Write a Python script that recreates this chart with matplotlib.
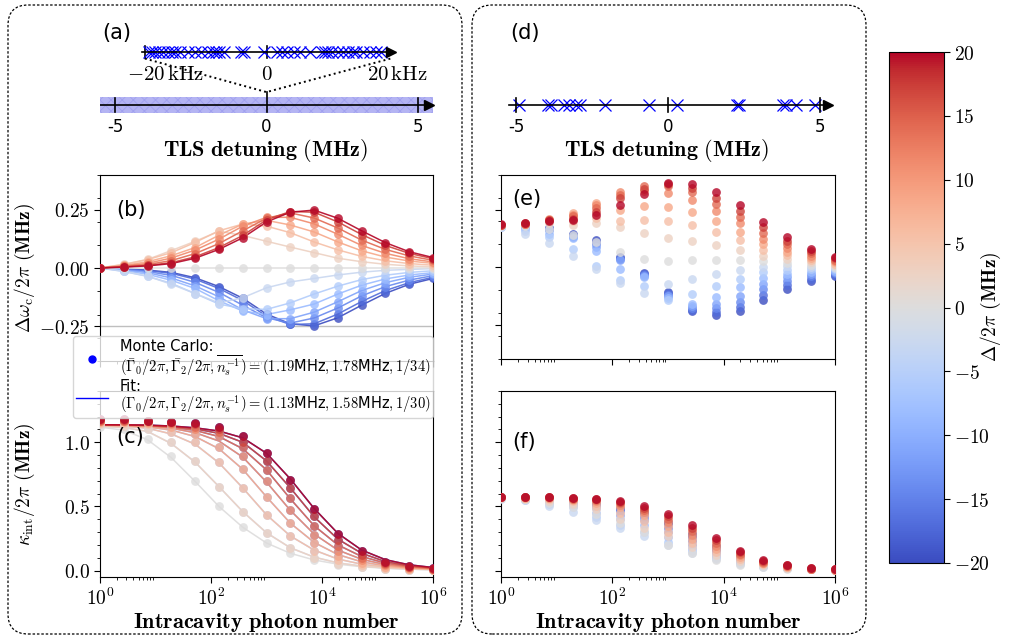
import numpy as np
import matplotlib.pyplot as plt
from matplotlib.patches import FancyBboxPatch, Rectangle
from matplotlib.lines import Line2D
from matplotlib.ticker import FixedLocator, MultipleLocator, FuncFormatter, NullFormatter
from matplotlib.cm import ScalarMappable
from matplotlib.colors import Normalize

plt.rcParams['mathtext.fontset'] = 'cm'
plt.rcParams['font.family'] = ['DejaVu Sans']
plt.rcParams['hatch.linewidth'] = 0.6

# ---- data ----
PHOTONS = [1, 2.68, 7.2, 19.3, 51.8, 139, 373, 1000, 2683, 7197,
           19307, 51795, 138950, 372759, 1e6]

DETUNINGS = [-20, -17.14, -14.29, -11.43, -8.57, -5.71, -2.86, 0,
             2.86, 5.71, 8.57, 11.43, 14.29, 17.14, 20]

# (b) cavity frequency shift, one row per detuning (MHz)
SHIFT_B = [
    [0, -.004, -.009, -.019, -.042, -.08, -.13, -.198, -.24, -.249, -.214, -.16, -.109, -.07, -.045],
    [0, -.005, -.011, -.023, -.048, -.088, -.14, -.207, -.243, -.24, -.198, -.144, -.097, -.063, -.04],
    [0, -.007, -.015, -.032, -.062, -.105, -.16, -.214, -.237, -.215, -.172, -.12, -.08, -.052, -.033],
    [0, -.009, -.02, -.043, -.077, -.124, -.18, -.218, -.218, -.19, -.145, -.097, -.063, -.04, -.026],
    [0, -.011, -.027, -.053, -.088, -.141, -.185, -.2, -.18, -.155, -.112, -.074, -.047, -.03, -.02],
    [0, -.015, -.036, -.066, -.11, -.155, -.175, -.178, -.15, -.112, -.078, -.05, -.031, -.019, -.012],
    [0, -.014, -.035, -.07, -.11, -.15, -.128, -.085, -.06, -.045, -.03, -.018, -.01, -.006, -.003],
    [0, 0, 0, 0, 0, 0, 0, 0, 0, 0, 0, 0, 0, 0, 0],
    [0, .016, .037, .075, .115, .158, .14, .115, .09, .066, .042, .027, .016, .009, .005],
    [0, .015, .036, .066, .11, .16, .189, .18, .152, .112, .078, .05, .031, .019, .012],
    [0, .011, .027, .053, .088, .141, .189, .205, .185, .155, .112, .074, .047, .03, .02],
    [0, .009, .02, .043, .077, .124, .18, .218, .218, .19, .145, .097, .063, .04, .026],
    [0, .007, .015, .032, .062, .105, .16, .214, .237, .215, .172, .12, .08, .052, .033],
    [0, .005, .011, .023, .048, .088, .14, .207, .243, .24, .198, .144, .097, .063, .04],
    [0, .004, .009, .019, .042, .08, .13, .198, .24, .249, .214, .16, .109, .07, .045],
]

# (c) internal loss, one row per |detuning| = 0, 2.86, ..., 20
ABS_DETUNINGS = [0, 2.86, 5.71, 8.57, 11.43, 14.29, 17.14, 20]
KAPPA_MC = [
    [1.12, 1.105, 1.026, .89, .70, .50, .34, .215, .135, .08, .045, .025, .012, .006, .003],
    [1.14, 1.13, 1.10, 1.0, .856, .654, .458, .293, .175, .10, .055, .03, .015, .008, .004],
    [1.15, 1.15, 1.14, 1.08, 1.0, .843, .646, .432, .272, .15, .08, .04, .02, .01, .005],
    [1.16, 1.16, 1.15, 1.12, 1.065, .96, .79, .573, .372, .215, .115, .06, .03, .015, .008],
    [1.165, 1.165, 1.16, 1.14, 1.10, 1.05, .89, .70, .476, .28, .15, .08, .04, .02, .01],
    [1.17, 1.17, 1.165, 1.15, 1.12, 1.08, .96, .785, .563, .35, .19, .10, .05, .025, .012],
    [1.175, 1.175, 1.168, 1.155, 1.14, 1.10, 1.005, .851, .645, .424, .24, .125, .06, .03, .015],
    [1.178, 1.178, 1.17, 1.16, 1.15, 1.118, 1.047, .914, .71, .48, .285, .15, .07, .037, .018],
]
KAPPA_FIT = [
    [1.118, 1.095, 1.02, .88, .695, .50, .338, .215, .135, .083, .05, .03, .018, .011, .006],
    [1.125, 1.115, 1.085, .99, .845, .655, .46, .295, .178, .105, .06, .035, .02, .012, .007],
    [1.13, 1.125, 1.11, 1.065, .985, .84, .645, .435, .27, .16, .09, .05, .028, .016, .009],
    [1.132, 1.13, 1.12, 1.095, 1.045, .95, .79, .575, .37, .22, .125, .068, .037, .02, .011],
    [1.134, 1.132, 1.127, 1.11, 1.075, 1.01, .885, .69, .47, .285, .16, .088, .047, .025, .014],
    [1.135, 1.134, 1.13, 1.118, 1.093, 1.045, .95, .785, .56, .35, .2, .11, .058, .031, .017],
    [1.136, 1.135, 1.132, 1.123, 1.105, 1.07, 1.0, .855, .645, .42, .245, .135, .07, .037, .02],
    [1.137, 1.136, 1.134, 1.127, 1.113, 1.088, 1.035, .915, .715, .485, .29, .16, .085, .045, .024],
]

# (e) frequency shift, sparse TLS bath
SHIFT_E = [
    [.18, .185, .17, .145, .116, .044, -.025, -.11, -.19, -.21, -.19, -.145, -.094, -.061, -.04],
    [.18, .183, .17, .14, .11, .04, -.03, -.115, -.185, -.195, -.172, -.121, -.077, -.05, -.034],
    [.18, .18, .165, .135, .10, .035, -.035, -.12, -.18, -.18, -.153, -.096, -.061, -.04, -.028],
    [.178, .175, .16, .13, .085, .03, -.04, -.128, -.17, -.163, -.124, -.072, -.045, -.03, -.022],
    [.175, .167, .145, .124, .07, -.007, -.044, -.135, -.16, -.13, -.087, -.048, -.029, -.02, -.016],
    [.172, .155, .13, .08, .003, -.058, -.083, -.145, -.116, -.084, -.05, -.023, -.013, -.01, -.01],
    [.172, .145, .105, .048, -.01, -.068, -.113, -.076, -.054, -.029, -.012, .001, .003, 0, -.004],
    [.18, .178, .167, .138, .11, .065, .036, .026, .029, .032, .032, .026, .019, .01, .002],
    [.182, .185, .19, .182, .19, .172, .15, .128, .113, .097, .076, .05, .035, .02, .008],
    [.182, .187, .2, .2, .215, .2, .206, .2, .182, .153, .116, .074, .051, .03, .014],
    [.183, .188, .205, .235, .28, .247, .265, .262, .24, .2, .153, .099, .067, .04, .02],
    [.183, .189, .208, .228, .27, .327, .33, .32, .29, .243, .19, .123, .083, .05, .026],
    [.184, .189, .205, .22, .255, .313, .352, .352, .327, .276, .218, .147, .099, .06, .032],
    [.184, .19, .203, .21, .24, .30, .34, .36, .345, .30, .245, .172, .115, .07, .038],
    [.185, .19, .2, .203, .228, .27, .317, .366, .36, .327, .27, .196, .131, .08, .044],
]

# (f) internal loss, sparse TLS bath
KAPPA_F = [
    [.572, .57, .568, .555, .53, .49, .455, .38, .285, .19, .11, .058, .033, .016, .008],
    [.572, .568, .565, .55, .52, .48, .44, .36, .26, .17, .1, .052, .03, .015, .008],
    [.571, .565, .56, .545, .51, .465, .42, .33, .23, .15, .09, .046, .027, .014, .007],
    [.57, .56, .55, .53, .49, .435, .396, .3, .2, .13, .08, .04, .024, .013, .007],
    [.568, .555, .535, .51, .45, .40, .357, .26, .175, .115, .07, .036, .022, .012, .006],
    [.565, .55, .52, .495, .42, .357, .297, .22, .15, .1, .06, .032, .02, .011, .006],
    [.56, .547, .505, .453, .396, .33, .27, .2, .14, .09, .05, .028, .017, .01, .005],
    [.565, .555, .53, .495, .44, .37, .30, .2, .135, .083, .044, .026, .016, .01, .005],
    [.568, .56, .545, .52, .48, .40, .33, .266, .18, .12, .075, .04, .022, .012, .006],
    [.57, .565, .555, .54, .50, .45, .39, .30, .215, .145, .09, .048, .026, .013, .007],
    [.571, .568, .563, .55, .525, .495, .43, .344, .25, .17, .105, .056, .03, .014, .008],
    [.572, .57, .568, .556, .54, .51, .455, .38, .28, .195, .12, .063, .034, .015, .008],
    [.573, .572, .57, .56, .55, .525, .475, .405, .305, .215, .132, .07, .037, .016, .009],
    [.573, .573, .572, .563, .555, .535, .49, .425, .33, .235, .145, .077, .04, .017, .009],
    [.573, .573, .573, .565, .56, .544, .505, .443, .354, .253, .156, .083, .044, .018, .01],
]

# TLS positions: (a) dense bath zoom in kHz, (d) sparse bath in MHz
TLS_DENSE_KHZ = [-19.0, -18.5, -17.9, -17.4, -16.6, -15.8, -15.3, -14.7, -14.0, -12.6,
                 -11.6, -10.5, -9.4, -8.6, -8.1, -7.6, -6.8, -4.1, -3.6, -0.4,
                 1.7, 2.5, 3.3, 4.4, 5.4, 7.0, 8.9, 9.4, 9.9, 10.5,
                 11.5, 12.3, 13.1, 13.9, 14.4, 15.5, 16.6, 17.6, 18.4]
TLS_SPARSE_MHZ = [-4.92, -3.96, -3.85, -3.41, -3.26, -3.02, -2.91, -2.08, -0.64,
                  0.28, 2.26, 2.35, 3.78, 3.89, 4.23, 4.83]

LINE_TICKS = [-5, 0, 5]
LINE_TICK_LABELS = ['-5', '0', '5']

W, H = 1010, 639
CMAP = plt.get_cmap('coolwarm')
NORM = Normalize(-20, 20)
DOT_ALPHA = 0.8


def px_rect(x0, y0, x1, y1):
    return [x0 / W, 1 - y1 / H, (x1 - x0) / W, (y1 - y0) / H]


def cm_fmt(fmt):
    return FuncFormatter(lambda v, p: "$" + fmt.format(v) + "$")


def setup_log_x(ax, labels=True):
    ax.set_xscale('log')
    ax.set_xlim(1, 1e6)
    ax.xaxis.set_major_locator(FixedLocator([1, 1e2, 1e4, 1e6]))
    ax.xaxis.set_minor_locator(FixedLocator([s * 10.0 ** d for d in (0, 2, 4) for s in range(2, 10)]))
    ax.xaxis.set_minor_formatter(NullFormatter())
    ax.xaxis.set_major_formatter(FuncFormatter(lambda v, p: r"$10^{%d}$" % round(np.log10(v))))
    ax.tick_params(axis='both', which='major', length=4, width=0.8, labelsize=14)
    ax.tick_params(axis='both', which='minor', length=2, width=0.6)
    if not labels:
        ax.tick_params(axis='x', labelbottom=False)


def number_line(ax, tls, zoom=False):
    ax.set_xlim(-5.5, 5.5)
    ax.set_ylim(0, 1)
    ax.axis('off')
    y0 = 0.273
    if zoom:
        ax.add_patch(Rectangle((-5.5, 0.2), 11.0, 0.145, facecolor='#b4b4f3',
                               edgecolor='#a0a0ef', hatch='xxx', lw=0, zorder=1))
        ax.plot([-5.5, 5.3], [y0, y0], color='k', lw=1.2, zorder=3)
        ax.plot([5.38], [y0], marker='>', color='k', ms=7, clip_on=False, zorder=3)
    else:
        ax.plot([-5.25, 5.2], [y0, y0], color='k', lw=1.2, zorder=3)
        ax.plot([5.28], [y0], marker='>', color='k', ms=7, clip_on=False, zorder=3)
        ax.plot(tls, [y0] * len(tls), 'x', color='blue', ms=9, mew=0.9, zorder=2)
    for t, lab in zip(LINE_TICKS, LINE_TICK_LABELS):
        top = 0.39 if (zoom and t == 0) else 0.34
        ax.plot([t, t], [0.21, top], color='k', lw=1.2, zorder=3)
        ax.text(t, 0.07, lab, ha='center', va='center', fontsize=12)


fig = plt.figure(figsize=(W / 100, H / 100), dpi=100)

# dashed rounded frames
for x0, x1 in [(8, 462), (472, 866)]:
    box = FancyBboxPatch((x0 / W, 1 - 634 / H), (x1 - x0) / W, 629 / H,
                         boxstyle="round,pad=0,rounding_size=0.02", mutation_aspect=W / H,
                         transform=fig.transFigure, fill=False, ec='k', lw=0.9,
                         ls=(0, (2, 1.5)))
    fig.add_artist(box)

XLABEL = r"$\mathbf{Intracavity\ photon\ number}$"
TLS_LABEL = r"$\mathbf{TLS\ detuning\ (MHz)}$"

# ---- (a) ----
ax_a = fig.add_axes(px_rect(100, 25, 433, 135))
number_line(ax_a, None, zoom=True)
k2x = 4.1 / 20.0
yu = 0.755
ax_a.plot([-20 * k2x, 19.4 * k2x], [yu, yu], color='k', lw=1.2, zorder=3)
ax_a.plot([20 * k2x], [yu], marker='>', color='k', ms=7, zorder=3)
ax_a.plot([-19.6 * k2x] * 2, [yu - 0.055, yu + 0.055], color='k', lw=1.2)
ax_a.plot([0, 0], [yu - 0.055, yu + 0.055], color='k', lw=1.2)
ax_a.plot([k * k2x for k in TLS_DENSE_KHZ], [yu] * len(TLS_DENSE_KHZ), 'x',
          color='blue', ms=9, mew=0.9, zorder=2)
ax_a.plot([-19.6 * k2x, 0, 20 * k2x], [yu - 0.06, 0.39, yu - 0.06], ls=':', color='k', lw=1.4)
ax_a.text(-3.35, 0.555, r"$-20\,\mathrm{kHz}$", ha='center', va='center', fontsize=15)
ax_a.text(0, 0.555, r"$0$", ha='center', va='center', fontsize=15)
ax_a.text(4.34, 0.555, r"$20\,\mathrm{kHz}$", ha='center', va='center', fontsize=15)
ax_a.text(-4.95, 0.93, "(a)", ha='center', va='center', fontsize=15)
fig.text(266 / W, 1 - 150 / H, TLS_LABEL, ha='center', va='center', fontsize=16)

# ---- (d) ----
ax_d = fig.add_axes(px_rect(501, 25, 835, 135))
number_line(ax_d, TLS_SPARSE_MHZ)
ax_d.text(-4.7, 0.93, "(d)", ha='center', va='center', fontsize=15)
fig.text(667 / W, 1 - 150 / H, TLS_LABEL, ha='center', va='center', fontsize=16)

# ---- (b) ----
ax_b = fig.add_axes(px_rect(100, 175, 433, 361))
ax_b.axhline(-0.25, color='0.75', lw=1, zorder=1)
for d, row in zip(DETUNINGS, SHIFT_B):
    c = CMAP(NORM(d))
    ax_b.plot(PHOTONS, row, color=c, lw=1.1, alpha=0.9, zorder=2)
    ax_b.scatter(PHOTONS, row, color=c, s=40, lw=0, alpha=DOT_ALPHA, zorder=3)
setup_log_x(ax_b, labels=False)
ax_b.set_ylim(-0.4, 0.4)
ax_b.yaxis.set_major_locator(MultipleLocator(0.25))
ax_b.yaxis.set_minor_locator(MultipleLocator(0.1))
ax_b.yaxis.set_major_formatter(cm_fmt("{:.2f}"))
ax_b.text(0.05, 0.81, "(b)", transform=ax_b.transAxes, fontsize=15, va='center')
ax_b.set_ylabel(r"$\Delta\omega_{\rm c}/2\pi$ $\mathbf{(MHz)}$", fontsize=14)
ax_b.yaxis.set_label_coords(-0.19, 0.5)

# ---- (c) ----
ax_c = fig.add_axes(px_rect(100, 391, 433, 577))
for d in DETUNINGS:
    i = ABS_DETUNINGS.index(abs(d))
    c = CMAP(NORM(d))
    ax_c.plot(PHOTONS, KAPPA_FIT[i], color=c, lw=1.1, alpha=0.9, zorder=2)
    ax_c.scatter(PHOTONS, KAPPA_MC[i], color=c, s=40, lw=0, alpha=DOT_ALPHA, zorder=3)
setup_log_x(ax_c)
ax_c.set_ylim(-0.05, 1.4)
ax_c.yaxis.set_major_locator(MultipleLocator(0.5))
ax_c.yaxis.set_minor_locator(MultipleLocator(0.1))
ax_c.yaxis.set_major_formatter(cm_fmt("{:.1f}"))
ax_c.text(0.05, 0.75, "(c)", transform=ax_c.transAxes, fontsize=15, va='center')
ax_c.set_ylabel(r"$\kappa_{\rm int}/2\pi$ $\mathbf{(MHz)}$", fontsize=14)
ax_c.yaxis.set_label_coords(-0.19, 0.5)
ax_c.set_xlabel(XLABEL, fontsize=16, labelpad=2)

# ---- (e) ----
ax_e = fig.add_axes(px_rect(501, 175, 835, 359))
for d, row in zip(DETUNINGS, SHIFT_E):
    ax_e.scatter(PHOTONS, row, color=CMAP(NORM(d)), s=40, lw=0, alpha=DOT_ALPHA, zorder=3)
setup_log_x(ax_e, labels=False)
ax_e.set_ylim(-0.4, 0.4)
ax_e.yaxis.set_major_locator(MultipleLocator(0.25))
ax_e.yaxis.set_minor_locator(MultipleLocator(0.1))
ax_e.tick_params(axis='y', labelleft=False)
ax_e.text(0.035, 0.87, "(e)", transform=ax_e.transAxes, fontsize=15, va='center')

# ---- (f) ----
ax_f = fig.add_axes(px_rect(501, 391, 835, 577))
for d, row in zip(DETUNINGS, KAPPA_F):
    ax_f.scatter(PHOTONS, row, color=CMAP(NORM(d)), s=40, lw=0, alpha=DOT_ALPHA, zorder=3)
setup_log_x(ax_f)
ax_f.set_ylim(-0.05, 1.4)
ax_f.yaxis.set_major_locator(MultipleLocator(0.5))
ax_f.yaxis.set_minor_locator(MultipleLocator(0.1))
ax_f.tick_params(axis='y', labelleft=False)
ax_f.text(0.035, 0.725, "(f)", transform=ax_f.transAxes, fontsize=15, va='center')
ax_f.set_xlabel(XLABEL, fontsize=16, labelpad=2)

for ax in (ax_b, ax_c, ax_e, ax_f):
    for s in ax.spines.values():
        s.set_linewidth(0.8)

# ---- legend ----
handles = [Line2D([], [], marker='o', ls='none', color='blue', ms=5),
           Line2D([], [], color='blue', lw=1)]
labels = ["Monte Carlo:\n" + r"$(\bar{\Gamma}_0/2\pi, \bar{\Gamma}_2/2\pi, \overline{n_s^{-1}}) = (1.19$MHz$, 1.78$MHz$, 1/34)$",
          "Fit:\n" + r"$(\Gamma_0/2\pi, \Gamma_2/2\pi, n_s^{-1}) = (1.13$MHz$, 1.58$MHz$, 1/30)$"]
leg = fig.legend(handles, labels, loc='upper left', bbox_to_anchor=(73 / W, 1 - 336 / H),
                 borderaxespad=0, fontsize=10.5, framealpha=0.8, edgecolor='0.8', fancybox=True,
                 handlelength=2.2, borderpad=0.2, labelspacing=0.1, handletextpad=0.8)
for t in leg.get_texts():
    t.set_linespacing(0.95)

# ---- colorbar ----
cax = fig.add_axes(px_rect(889, 52, 944, 563))
cb = fig.colorbar(ScalarMappable(norm=NORM, cmap=CMAP), cax=cax)
cb.set_ticks([-20, -15, -10, -5, 0, 5, 10, 15, 20])
cb.ax.yaxis.set_major_formatter(cm_fmt("{:.0f}"))
cb.ax.tick_params(labelsize=14, length=4, width=0.8)
cb.outline.set_linewidth(0.8)
fig.text(991 / W, 1 - 307 / H, r"$\Delta/2\pi$ $\mathbf{(MHz)}$", rotation=90,
         ha='center', va='center', fontsize=14)

fig.savefig("out.png", dpi=100)
